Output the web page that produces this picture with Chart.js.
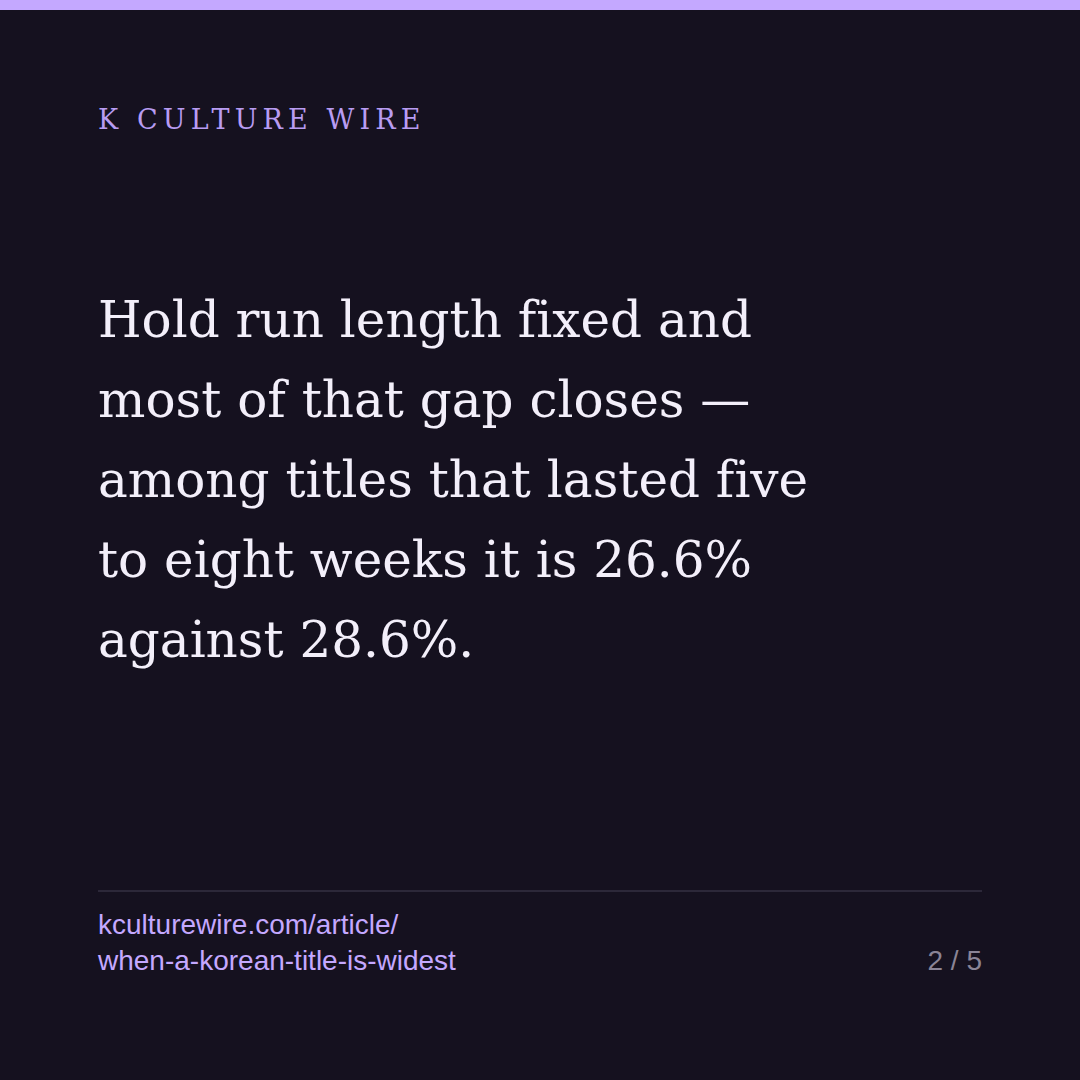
<!DOCTYPE html>
<html>
<head>
<meta charset="utf-8">
<script src="https://cdn.jsdelivr.net/npm/chart.js@4"></script>
<style>
  html, body { margin:0; padding:0; }
  body { width:1080px; height:1080px; background:#15111f; position:relative; overflow:hidden; font-variant-ligatures:none; }
  .topbar { position:absolute; left:0; top:0; width:1080px; height:10px; background:#c4a8ff; }
  .brand { position:absolute; left:98px; top:104px; font-family:"DejaVu Serif", serif; font-size:27px; letter-spacing:0.19em; color:#b89cf2; white-space:nowrap; }
  .headline { position:absolute; left:98px; top:280px; font-family:"DejaVu Serif", serif; font-size:50px; line-height:80px; color:#f3effa; white-space:nowrap; font-variant-ligatures:none; }
  .rule { position:absolute; left:98px; top:890px; width:884px; height:2px; background:#2c2839; }
  .url { position:absolute; left:98px; top:907px; font-family:"Liberation Sans", Arial, sans-serif; font-size:28px; line-height:36px; color:#c4a8ff; }
  .page { position:absolute; right:98px; top:943px; font-family:"Liberation Sans", Arial, sans-serif; font-size:28px; line-height:36px; color:#8a8496; }
  #chartWrap { position:absolute; left:0; top:0; width:1px; height:1px; opacity:0; pointer-events:none; }
</style>
</head>
<body>
<div class="topbar"></div>
<div class="brand">K CULTURE WIRE</div>
<div class="headline">Hold run length fixed and<br>most of that gap closes —<br>among titles that lasted five<br>to eight weeks it is 26.6%<br>against 28.6%.</div>
<div class="rule"></div>
<div class="url">kculturewire.com/article/<br>when-a-korean-title-is-widest</div>
<div class="page">2 / 5</div>
<div id="chartWrap"><canvas id="c"></canvas></div>
<script>
const categories = ["Group A (5–8 weeks)", "Group B (5–8 weeks)"];
const shareValues = [26.6, 28.6];
new Chart(document.getElementById('c'), {
  type: 'bar',
  data: { labels: categories, datasets: [{ data: shareValues, backgroundColor: 'rgba(0,0,0,0)' }] },
  options: { responsive:false, animation:false, plugins:{ legend:{display:false}, tooltip:{enabled:false} }, scales:{ x:{display:false}, y:{display:false} } }
});
</script>
</body>
</html>
